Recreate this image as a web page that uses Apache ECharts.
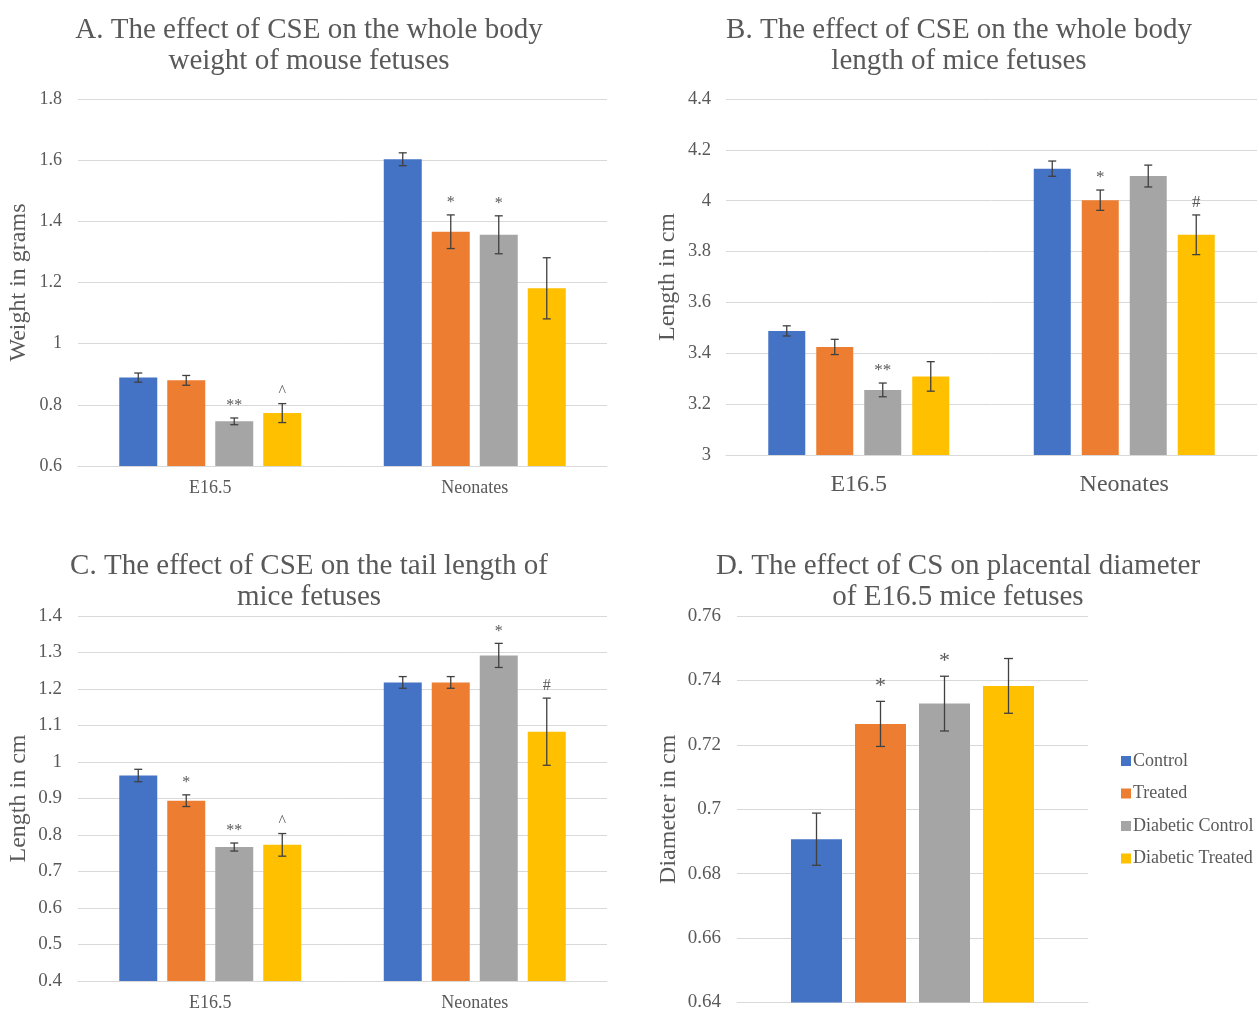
<!DOCTYPE html>
<html><head><meta charset="utf-8">
<script src="https://cdn.jsdelivr.net/npm/echarts@6/dist/echarts.min.js"></script>
<style>html,body{margin:0;padding:0;background:#fff}#c{width:1259px;height:1012px}</style>
</head><body><div id="c"></div>
<script>
// ---------- data ----------
const groups = ['Control', 'Treated', 'Diabetic Control', 'Diabetic Treated'];
const colors = ['#4472C4', '#ED7D31', '#A5A5A5', '#FFC000'];
const catsABC = ['E16.5', 'Neonates'];
const catsD = ['E16.5'];

// A: whole body weight (g)  [E16.5, Neonates] per group
const aMean = [[0.889, 1.603], [0.880, 1.366], [0.746, 1.356], [0.773, 1.181]];
const aErr  = [[0.015, 0.021], [0.016, 0.055], [0.011, 0.062], [0.031, 0.100]];
const aSig  = [['', ''], ['', '*'], ['**', '*'], ['^', '']];

// B: whole body length (cm)
const bMean = [[3.488, 4.126], [3.425, 4.002], [3.256, 4.097], [3.309, 3.866]];
const bErr  = [[0.020, 0.030], [0.030, 0.040], [0.027, 0.043], [0.058, 0.078]];
const bSig  = [['', ''], ['', '*'], ['**', ''], ['', '#']];

// C: tail length (cm)
const cMean = [[0.963, 1.218], [0.894, 1.218], [0.767, 1.292], [0.773, 1.083]];
const cErr  = [[0.017, 0.016], [0.016, 0.016], [0.011, 0.033], [0.031, 0.092]];
const cSig  = [['', ''], ['*', ''], ['**', '*'], ['^', '#']];

// D: placental diameter (cm)
const dMean = [[0.6907], [0.7265], [0.7328], [0.7383]];
const dErr  = [[0.0081], [0.0070], [0.0085], [0.0085]];
const dSig  = [[''], ['*'], ['*'], ['']];

// ---------- chart ----------
const SERIF = '"Liberation Serif", "DejaVu Serif", serif';
const TXT = '#595959';
const chart = echarts.init(document.getElementById('c'));

const panels = [
  {mean: aMean, err: aErr, sig: aSig, cats: catsABC, barW: 38, gap: 10, cap: 8, sigSize: 16,
   grid: {left: 78, right: 652, top: 99, bottom: 546},
   y: {min: 0.6, max: 1.8, interval: 0.2, name: 'Weight in grams', nameGap: 47, fs: 18, nameFs: 24, margin: 16},
   x: {fs: 18, margin: 13, show: true}},
  {mean: bMean, err: bErr, sig: bSig, cats: catsABC, barW: 37, gap: 11, cap: 8, sigSize: 17,
   grid: {left: 726, right: 2, top: 99, bottom: 557},
   y: {min: 3, max: 4.4, interval: 0.2, name: 'Length in cm', nameGap: 46, fs: 18.5, nameFs: 24, margin: 15},
   x: {fs: 24, margin: 18, show: true}},
  {mean: cMean, err: cErr, sig: cSig, cats: catsABC, barW: 38, gap: 10, cap: 8, sigSize: 16,
   grid: {left: 78, right: 652, top: 616, bottom: 30},
   y: {min: 0.4, max: 1.4, interval: 0.1, name: 'Length in cm', nameGap: 47, fs: 19, nameFs: 24, margin: 16},
   x: {fs: 18, margin: 13, show: true}},
  {mean: dMean, err: dErr, sig: dSig, cats: catsD, barW: 51, gap: 13, cap: 9, sigSize: 22,
   grid: {left: 737, right: 171, top: 616, bottom: 7},
   y: {min: 0.64, max: 0.76, interval: 0.02, name: 'Diameter in cm', nameGap: 56, fs: 19, nameFs: 24, margin: 16},
   x: {fs: 18, margin: 12, show: false}}
];

const titles = [
  {text: 'A. The effect of CSE on the whole body\nweight of mouse fetuses', left: 304, top: 10},
  {text: 'B. The effect of CSE on the whole body\nlength of mice fetuses', left: 954, top: 10},
  {text: 'C. The effect of CSE on the tail length of\nmice fetuses', left: 304, top: 546},
  {text: 'D. The effect of CS on placental diameter\nof E16.5 mice fetuses', left: 953, top: 546}
].map(t => Object.assign(t, {textAlign: 'center',
  textStyle: {fontFamily: SERIF, fontSize: 29, fontWeight: 'normal', color: TXT, lineHeight: 31}}));

const grids = [], xAxes = [], yAxes = [], series = [];
const fmt = v => String(+v.toFixed(3));

panels.forEach((p, pi) => {
  grids.push(Object.assign({containLabel: false}, p.grid));
  xAxes.push({type: 'category', gridIndex: pi, data: p.cats,
    axisLine: {show: true, lineStyle: {color: '#d9d9d9'}}, axisTick: {show: false},
    axisLabel: {show: p.x.show, fontFamily: SERIF, fontSize: p.x.fs, color: TXT, margin: p.x.margin}});
  yAxes.push({type: 'value', gridIndex: pi, min: p.y.min, max: p.y.max, interval: p.y.interval,
    name: p.y.name, nameLocation: 'middle', nameRotate: 90, nameGap: p.y.nameGap,
    nameTextStyle: {fontFamily: SERIF, fontSize: p.y.nameFs, color: TXT},
    axisLine: {show: false}, axisTick: {show: false},
    splitLine: {lineStyle: {color: '#d9d9d9', width: 1}},
    axisLabel: {fontFamily: SERIF, fontSize: p.y.fs, color: TXT, margin: p.y.margin, formatter: fmt}});

  groups.forEach((g, gi) => {
    series.push({type: 'bar', name: g, xAxisIndex: pi, yAxisIndex: pi,
      data: p.mean[gi], barWidth: p.barW, barGap: (p.gap / p.barW * 100).toFixed(1) + '%',
      itemStyle: {color: colors[gi]}, emphasis: {disabled: true}, z: 2});
  });

  const errData = [], errLabels = [];
  groups.forEach((g, gi) => {
    p.mean[gi].forEach((m, ci) => {
      errData.push([ci, gi, m, p.err[gi][ci]]);
      errLabels.push(p.sig[gi][ci]);
    });
  });
  const spacing = p.barW + p.gap;
  series.push({type: 'custom', name: 'err' + pi, xAxisIndex: pi, yAxisIndex: pi, z: 5,
    clip: false, silent: true, data: errData,
    renderItem: (params, api) => {
      const ci = api.value(0), gi = api.value(1), m = api.value(2), e = api.value(3);
      const c = api.coord([ci, m]);
      const x = c[0] + (gi - 1.5) * spacing;
      const yt = api.coord([ci, m + e])[1], yb = api.coord([ci, m - e])[1];
      const st = {stroke: '#404040', lineWidth: 1.3};
      const h = p.cap / 2;
      const children = [
        {type: 'line', shape: {x1: x, y1: yt, x2: x, y2: yb}, style: st},
        {type: 'line', shape: {x1: x - h, y1: yt, x2: x + h, y2: yt}, style: st},
        {type: 'line', shape: {x1: x - h, y1: yb, x2: x + h, y2: yb}, style: st}
      ];
      const lab = errLabels[params.dataIndex];
      if (lab) children.push({type: 'text', style: {text: lab, x: x, y: yt - 4,
        align: 'center', verticalAlign: 'bottom', fill: TXT,
        font: p.sigSize + 'px ' + SERIF}});
      return {type: 'group', children};
    }});
});

chart.setOption({
  animation: false,
  backgroundColor: '#fff',
  title: titles,
  grid: grids, xAxis: xAxes, yAxis: yAxes, series,
  legend: {data: groups, orient: 'vertical', left: 1116, top: 747, itemWidth: 10, itemHeight: 10,
    itemGap: 14.5, icon: 'rect', selectedMode: false,
    textStyle: {fontFamily: SERIF, fontSize: 18, color: TXT, padding: [0, 0, 0, -3]}}
});
</script></body></html>
